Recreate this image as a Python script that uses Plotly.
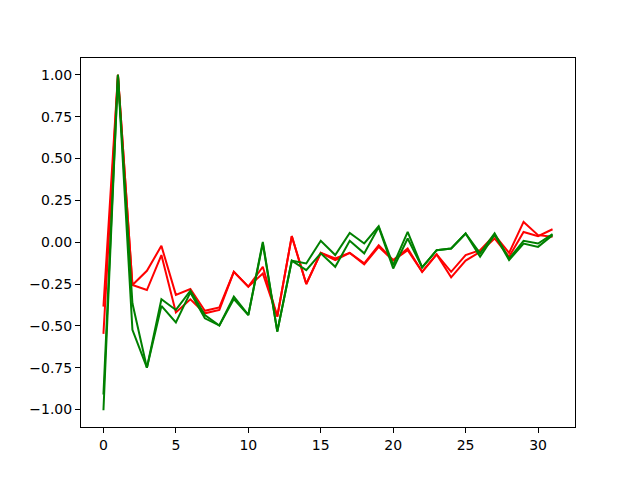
import plotly.graph_objects as go

lags = list(range(32))

red_a = [-0.385, 1.0, -0.256, -0.171, -0.022, -0.315, -0.28, -0.41, -0.39, -0.177,
         -0.266, -0.147, -0.444, 0.036, -0.25, -0.064, -0.097, -0.064, -0.127, -0.018,
         -0.107, -0.038, -0.177, -0.073, -0.177, -0.077, -0.048, 0.042, -0.064, 0.121,
         0.042, 0.032]
red_b = [-0.548, 1.0, -0.256, -0.286, -0.077, -0.42, -0.341, -0.425, -0.405, -0.177,
         -0.266, -0.187, -0.444, 0.036, -0.25, -0.064, -0.107, -0.064, -0.133, -0.028,
         -0.11, -0.048, -0.177, -0.073, -0.21, -0.11, -0.058, 0.022, -0.087, 0.061,
         0.036, 0.077]
green_a = [-0.91, 1.0, -0.365, -0.75, -0.341, -0.405, -0.29, -0.435, -0.498, -0.325,
           -0.435, 0.002, -0.534, -0.111, -0.127, 0.008, -0.077, 0.055, -0.008, 0.095,
           -0.137, 0.061, -0.151, -0.048, -0.038, 0.052, -0.067, 0.052, -0.099, 0.008,
           -0.008, 0.048]
green_b = [-1.004, 1.0, -0.524, -0.75, -0.381, -0.48, -0.30, -0.455, -0.498, -0.34,
           -0.435, -0.008, -0.534, -0.111, -0.167, -0.067, -0.147, 0.008, -0.067, 0.09,
           -0.157, 0.022, -0.151, -0.048, -0.038, 0.052, -0.087, 0.045, -0.107, -0.008,
           -0.028, 0.042]

fig = go.Figure()
for ys, col in [(red_a, "red"), (red_b, "red"), (green_a, "green"), (green_b, "green")]:
    fig.add_trace(go.Scatter(x=lags, y=ys, mode="lines",
                             line=dict(color=col, width=2), showlegend=False))

axis_common = dict(showgrid=False, zeroline=False, showline=True, linecolor="black",
                   linewidth=1, mirror=True, ticks="outside", ticklen=5, tickwidth=1,
                   tickcolor="black", tickfont=dict(family="DejaVu Sans", size=14, color="black"))

fig.update_layout(
    width=632, height=472,
    margin=dict(l=73, r=65, t=50, b=53),
    paper_bgcolor="white", plot_bgcolor="white",
    xaxis=dict(range=[-1.55, 32.55], tickvals=[0, 5, 10, 15, 20, 25, 30], **axis_common),
    yaxis=dict(range=[-1.104, 1.1], tickvals=[-1.0, -0.75, -0.5, -0.25, 0, 0.25, 0.5, 0.75, 1.0],
               ticktext=["\u22121.00", "\u22120.75", "\u22120.50", "\u22120.25", "0.00",
                         "0.25", "0.50", "0.75", "1.00"], **axis_common),
)

fig.write_html("out.html")
